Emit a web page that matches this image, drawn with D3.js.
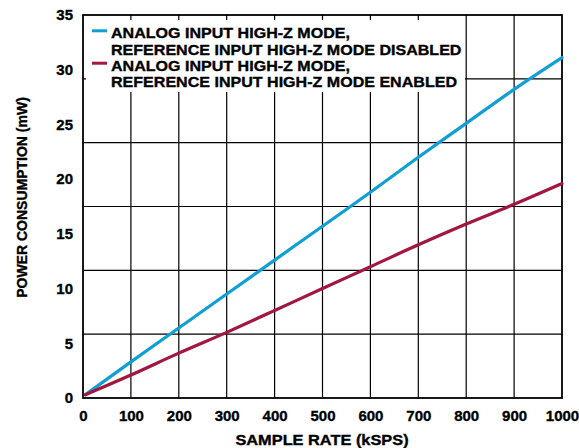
<!DOCTYPE html>
<html>
<head>
<meta charset="utf-8">
<script src="https://cdn.jsdelivr.net/npm/d3@7"></script>
<style>
  html, body { margin: 0; padding: 0; background: #fff; }
  svg { display: block; font-family: "Liberation Sans", Arial, sans-serif; font-weight: bold; }
  svg text { fill: #000; stroke: #000; stroke-width: 0.35px; }
</style>
</head>
<body>
<svg id="chart" width="579" height="448"></svg>
<script>
// Sample rate (kSPS)
const sampleRate = [5, 100, 200, 300, 400, 500, 600, 700, 800, 900, 1000];
// Power consumption (mW), reference input high-Z mode disabled
const powerRefDisabled = [0.3, 3.3, 6.4, 9.5, 12.6, 15.7, 18.8, 22.0, 25.1, 28.2, 31.1];
// Power consumption (mW), reference input high-Z mode enabled
const powerRefEnabled = [0.3, 2.1, 4.1, 6.0, 8.0, 10.0, 12.0, 14.0, 15.9, 17.7, 19.6];

const xTicks = [0, 100, 200, 300, 400, 500, 600, 700, 800, 900, 1000];
const yTicks = [0, 5, 10, 15, 20, 25, 30, 35];
const xGrid = [100, 200, 300, 400, 500, 600, 700, 800, 900];
const yGridDivisions = 6;

const seriesNames = [
  ["ANALOG INPUT HIGH-Z MODE,", "REFERENCE INPUT HIGH-Z MODE DISABLED"],
  ["ANALOG INPUT HIGH-Z MODE,", "REFERENCE INPUT HIGH-Z MODE ENABLED"]
];
const seriesColors = ["#0f9fd6", "#a3173f"];

const margin = { left: 83, right: 17, top: 15, bottom: 50 };
const W = 579, H = 448;
const svg = d3.select("#chart");

const x = d3.scaleLinear().domain([0, 1000]).range([margin.left, W - margin.right]);
const y = d3.scaleLinear().domain([0, 35]).range([H - margin.bottom, margin.top]);

// widen a text element horizontally by a factor
function stretch(sel, k) {
  sel.each(function () {
    const len = this.getComputedTextLength();
    d3.select(this).attr("textLength", len * k).attr("lengthAdjust", "spacingAndGlyphs");
  });
}

// grid
const g = svg.append("g");
g.selectAll(".vgrid").data(xGrid).join("line")
  .attr("x1", d => x(d)).attr("x2", d => x(d))
  .attr("y1", y(0)).attr("y2", y(35))
  .attr("stroke", "#000").attr("stroke-width", 1.2);
const yGrid = d3.range(1, yGridDivisions).map(k => k * 35 / yGridDivisions);
g.selectAll(".hgrid").data(yGrid).join("line")
  .attr("x1", x(0)).attr("x2", x(1000))
  .attr("y1", d => y(d)).attr("y2", d => y(d))
  .attr("stroke", "#000").attr("stroke-width", 1.2);

// legend box background
svg.append("rect")
  .attr("x", 86).attr("y", 20).attr("width", 379).attr("height", 72)
  .attr("fill", "#fff");

// frame
svg.append("rect")
  .attr("x", x(0)).attr("y", y(35))
  .attr("width", x(1000) - x(0)).attr("height", y(0) - y(35))
  .attr("fill", "none").attr("stroke", "#000").attr("stroke-width", 1.8);

// axes (labels only)
const xAxis = d3.axisBottom(x).tickValues(xTicks).tickFormat(d3.format("d")).tickSize(0).tickPadding(12);
const xa = svg.append("g").attr("transform", `translate(0,${y(0)})`).call(xAxis);
xa.select(".domain").remove();
xa.selectAll("text").attr("font-size", 15).attr("font-weight", "bold")
  .attr("font-family", "Liberation Sans, Arial, sans-serif");

const yAxis = d3.axisLeft(y).tickValues(yTicks).tickSize(0).tickPadding(10);
const ya = svg.append("g").attr("transform", `translate(${x(0)},0)`).call(yAxis);
ya.select(".domain").remove();
ya.selectAll("text").attr("font-size", 15).attr("font-weight", "bold")
  .attr("font-family", "Liberation Sans, Arial, sans-serif");

// axis titles
svg.append("text")
  .attr("x", 322).attr("y", 445)
  .attr("text-anchor", "middle").attr("font-size", 15)
  .text("SAMPLE RATE (kSPS)")
  .call(stretch, 1.09);
svg.append("text")
  .attr("transform", "translate(27,197.5) rotate(-90)")
  .attr("text-anchor", "middle").attr("font-size", 14)
  .text("POWER CONSUMPTION (mW)");

// series lines
const line = d3.line().x(d => x(d[0])).y(d => y(d[1])).curve(d3.curveMonotoneX);
[powerRefDisabled, powerRefEnabled].forEach((vals, i) => {
  svg.append("path")
    .datum(sampleRate.map((s, j) => [s, vals[j]]))
    .attr("d", line)
    .attr("fill", "none")
    .attr("stroke", seriesColors[i])
    .attr("stroke-width", 3.2)
    .attr("stroke-linecap", "round");
});

// legend
const legend = svg.append("g");
seriesNames.forEach((lines, i) => {
  const base = 38.3 + i * 32.4;
  legend.append("line")
    .attr("x1", 92).attr("x2", 107)
    .attr("y1", base - 7.5).attr("y2", base - 7.5)
    .attr("stroke", seriesColors[i]).attr("stroke-width", 3);
  lines.forEach((t, k) => {
    legend.append("text")
      .attr("x", 111).attr("y", base + k * 16.3)
      .attr("font-size", 15)
      .text(t)
      .call(stretch, 1.07);
  });
});
</script>
</body>
</html>
